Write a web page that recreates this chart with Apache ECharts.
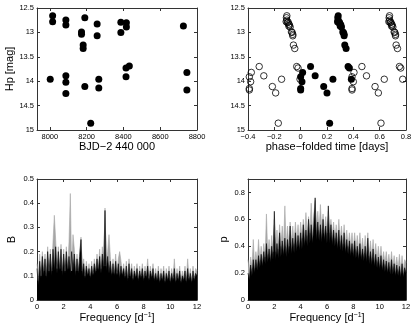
<!DOCTYPE html>
<html>
<head>
<meta charset="utf-8">
<script src="https://cdn.jsdelivr.net/npm/echarts@6/dist/echarts.min.js"></script>
<style>
html,body{margin:0;padding:0;background:#fff}
#main{width:415px;height:331px}
</style>
</head>
<body>
<div id="main"></div>
<script>
// light curve (top left)
const tlDay = [8015, 8015, 8087, 8087, 8190, 8172, 8172, 8257, 8257, 8181, 8181, 8386, 8416, 8416, 8386, 8726,
  8002, 8087, 8087, 8087, 8190, 8266, 8266, 8414, 8432, 8414, 8745, 8745, 8222];
const tlMag = [12.66, 12.78, 12.745, 12.85, 12.70, 12.99, 13.04, 12.83, 13.07, 13.26, 13.33, 12.79, 12.80, 12.89, 13.0, 12.87,
  13.96, 13.89, 14.02, 14.25, 14.11, 13.96, 14.14, 13.73, 13.69, 13.91, 13.82, 14.18, 14.86];

// phase-folded (top right), filled = one cycle, open = neighbouring cycles
const trFillPhase = [0.285, 0.282, 0.285, 0.28, 0.29, 0.295, 0.30, 0.305, 0.30, 0.31, 0.32, 0.325, 0.33, 0.33, 0.335, 0.345,
  0.015, 0.0, 0.01, 0.0, 0.0, 0.075, 0.11, 0.175, 0.20, 0.245, 0.22, 0.36, 0.37, 0.385];
const trFillMag = [12.66, 12.70, 12.75, 12.78, 12.80, 12.79, 12.83, 12.85, 12.87, 12.89, 12.99, 13.0, 13.04, 13.07, 13.26, 13.33,
  13.82, 13.91, 14.01, 14.15, 14.18, 13.70, 13.89, 14.11, 14.24, 13.96, 14.86, 13.70, 13.73, 13.96];
const trOpenPhase = [-0.105, -0.108, -0.105, -0.11, -0.10, -0.095, -0.09, -0.085, -0.09, -0.08, -0.07, -0.065, -0.06, -0.06, -0.055, -0.045,
  -0.375, -0.39, -0.38, -0.39, -0.39, -0.315, -0.28, -0.215, -0.19, -0.145, -0.17, -0.03, -0.02, -0.005,
  0.675, 0.672, 0.675, 0.67, 0.68, 0.685, 0.69, 0.695, 0.69, 0.70, 0.71, 0.715, 0.72, 0.72, 0.725, 0.735,
  0.405, 0.39, 0.40, 0.39, 0.39, 0.465, 0.50, 0.565, 0.59, 0.635, 0.61, 0.75, 0.76, 0.775];
const trOpenMag = [12.66, 12.70, 12.75, 12.78, 12.80, 12.79, 12.83, 12.85, 12.87, 12.89, 12.99, 13.0, 13.04, 13.07, 13.26, 13.33,
  13.82, 13.91, 14.01, 14.15, 14.18, 13.70, 13.89, 14.11, 14.24, 13.96, 14.86, 13.70, 13.73, 13.96,
  12.66, 12.70, 12.75, 12.78, 12.80, 12.79, 12.83, 12.85, 12.87, 12.89, 12.99, 13.0, 13.04, 13.07, 13.26, 13.33,
  13.82, 13.91, 14.01, 14.15, 14.18, 13.70, 13.89, 14.11, 14.24, 13.96, 14.86, 13.70, 13.73, 13.96];

// periodograms, sampled every 0.1 d^-1 from 0 to 12
const freqStep = 0.1;
const bBlack = [0.13,0.06,0.16,0.09,0.18,0.1,0.17,0.09,0.2,0.11, 0.19,0.1,0.21,0.12,0.22,0.11,0.2,0.12,0.21,0.1,
  0.19,0.11,0.2,0.12,0.18,0.11,0.2,0.12,0.19,0.1, 0.17,0.11,0.18,0.25,0.1,0.15,0.09,0.14,0.1,0.13,
  0.09,0.14,0.1,0.15,0.11,0.17,0.12,0.18,0.11,0.19, 0.13,0.37,0.12,0.18,0.11,0.16,0.1,0.15,0.1,0.16,
  0.1,0.15,0.09,0.14,0.1,0.13,0.09,0.14,0.08,0.15, 0.09,0.13,0.08,0.12,0.09,0.13,0.08,0.12,0.09,0.13,
  0.08,0.12,0.09,0.14,0.08,0.12,0.09,0.13,0.08,0.11, 0.08,0.12,0.07,0.11,0.08,0.12,0.07,0.11,0.08,0.12,
  0.07,0.11,0.08,0.13,0.07,0.11,0.08,0.12,0.07,0.1, 0.08,0.12,0.07,0.13,0.08,0.11,0.07,0.12,0.08,0.11, 0.1];
const bGrey = [0.15,0.08,0.19,0.1,0.2,0.12,0.19,0.1,0.22,0.12, 0.21,0.12,0.24,0.35,0.25,0.13,0.22,0.13,0.23,0.12,
  0.21,0.12,0.22,0.13,0.24,0.44,0.12,0.27,0.21,0.12, 0.19,0.12,0.2,0.26,0.12,0.17,0.1,0.16,0.11,0.15,
  0.1,0.16,0.11,0.17,0.12,0.19,0.13,0.21,0.13,0.22, 0.14,0.38,0.14,0.2,0.27,0.18,0.11,0.17,0.11,0.19,
  0.11,0.17,0.2,0.16,0.11,0.15,0.1,0.16,0.09,0.17, 0.1,0.15,0.09,0.14,0.1,0.15,0.09,0.14,0.1,0.15,
  0.09,0.14,0.1,0.17,0.09,0.14,0.1,0.15,0.09,0.13, 0.09,0.14,0.08,0.13,0.09,0.14,0.08,0.13,0.09,0.14,
  0.08,0.13,0.09,0.17,0.08,0.13,0.09,0.14,0.08,0.12, 0.09,0.14,0.08,0.17,0.09,0.13,0.08,0.14,0.09,0.13, 0.12];
const pBlack = [0.2,0.15,0.26,0.18,0.3,0.2,0.3,0.22,0.33,0.24, 0.34,0.25,0.36,0.27,0.42,0.28,0.38,0.28,0.4,0.3,
  0.66,0.3,0.42,0.31,0.5,0.32,0.44,0.33,0.46,0.32, 0.45,0.34,0.55,0.34,0.46,0.35,0.5,0.36,0.48,0.37,
  0.5,0.38,0.56,0.4,0.52,0.4,0.6,0.42,0.56,0.42, 0.55,0.76,0.44,0.58,0.44,0.56,0.43,0.6,0.44,0.55,
  0.42,0.7,0.42,0.56,0.41,0.52,0.4,0.5,0.38,0.52, 0.37,0.48,0.36,0.5,0.35,0.45,0.34,0.44,0.33,0.42,
  0.32,0.44,0.31,0.4,0.3,0.42,0.3,0.38,0.29,0.4, 0.28,0.46,0.27,0.36,0.26,0.38,0.25,0.34,0.24,0.32,
  0.23,0.33,0.22,0.3,0.21,0.29,0.2,0.28,0.19,0.3, 0.19,0.27,0.18,0.26,0.18,0.25,0.17,0.27,0.17,0.24, 0.2];
const pGrey = [0.3,0.22,0.32,0.24,0.45,0.26,0.36,0.28,0.45,0.3, 0.4,0.3,0.42,0.32,0.64,0.34,0.45,0.34,0.48,0.36,
  0.6,0.36,0.52,0.38,0.56,0.4,0.55,0.4,0.7,0.4, 0.55,0.4,0.58,0.42,0.55,0.42,0.58,0.44,0.56,0.44,
  0.58,0.46,0.6,0.48,0.65,0.48,0.62,0.5,0.72,0.5, 0.64,0.74,0.52,0.66,0.52,0.71,0.52,0.64,0.5,0.62,
  0.5,0.66,0.5,0.6,0.48,0.58,0.46,0.56,0.45,0.6, 0.44,0.55,0.42,0.56,0.42,0.52,0.4,0.5,0.4,0.5,
  0.38,0.5,0.38,0.48,0.36,0.5,0.36,0.46,0.35,0.48, 0.34,0.5,0.33,0.44,0.32,0.45,0.31,0.42,0.3,0.4,
  0.29,0.4,0.28,0.36,0.27,0.36,0.26,0.34,0.25,0.36, 0.25,0.33,0.24,0.32,0.23,0.34,0.22,0.33,0.22,0.3, 0.28];

// tick labels
const tlTicksX = [8000, 8200, 8400, 8600, 8800];
const trTicksX = [-0.4, -0.2, 0, 0.2, 0.4, 0.6, 0.8];
const magTicks = [12.5, 13, 13.5, 14, 14.5, 15];
const freqTicks = [0, 2, 4, 6, 8, 10, 12];
const bTicks = [0, 0.1, 0.2, 0.3, 0.4, 0.5];
const pTicks = [0, 0.2, 0.4, 0.6, 0.8];

const font = '"Liberation Sans", Arial, Helvetica, sans-serif';
const frameColor = '#333';

const zip = (a, b) => a.map((v, i) => [v, b[i]]);
const spectrum = vals => vals.map((v, i) => [i * freqStep, v]);
const minus = v => String(v).replace('-', '\u2212');

function axisPair(kind, grid, min, max, ticks, extra) {
  const base = {
    type: 'value', gridIndex: grid, min: min, max: max,
    axisLine: {show: true, onZero: false, lineStyle: {color: frameColor, width: 1}},
    axisTick: {show: true, inside: true, length: 3, customValues: ticks, lineStyle: {color: frameColor}},
    splitLine: {show: false}
  };
  const main = Object.assign({}, base, {
    position: kind === 'x' ? 'bottom' : 'left',
    axisLabel: {customValues: ticks, fontSize: 7.5, color: '#000', fontFamily: font, margin: 3, formatter: minus}
  }, extra || {});
  const mirror = Object.assign({}, base, {
    position: kind === 'x' ? 'top' : 'right',
    axisLabel: {show: false},
    inverse: (extra && extra.inverse) || false
  });
  return [main, mirror];
}

const nameStyle = {fontSize: 11, color: '#000', fontFamily: font};
const freqName = {
  name: '{a|Frequency [d}{s|\u22121}{a|]}', nameLocation: 'middle', nameGap: 8,
  nameTextStyle: {fontFamily: font, color: '#000', rich: {
    a: {fontSize: 11, fontFamily: font, color: '#000', lineHeight: 14, verticalAlign: 'bottom'},
    s: {fontSize: 7, fontFamily: font, color: '#000', lineHeight: 14, verticalAlign: 'bottom', padding: [0, 0, 5, 0]}
  }}
};

const grids = [
  {left: 37, top: 8, width: 160, height: 122},
  {left: 248, top: 8, width: 158, height: 122},
  {left: 37, top: 179, width: 160, height: 121},
  {left: 248, top: 179, width: 158, height: 121}
];

const xAxes = [].concat(
  axisPair('x', 0, 7930, 8800, tlTicksX, {name: 'BJD\u22122 440 000', nameLocation: 'middle', nameGap: 11, nameTextStyle: nameStyle}),
  axisPair('x', 1, -0.4, 0.8, trTicksX, {name: 'phase\u2212folded time [days]', nameLocation: 'middle', nameGap: 11, nameTextStyle: nameStyle}),
  axisPair('x', 2, 0, 12, freqTicks, freqName),
  axisPair('x', 3, 0, 12, freqTicks, freqName)
);
const yAxes = [].concat(
  axisPair('y', 0, 12.5, 15, magTicks, {inverse: true, name: 'Hp [mag]', nameLocation: 'middle', nameGap: 17, nameTextStyle: nameStyle}),
  axisPair('y', 1, 12.5, 15, magTicks, {inverse: true}),
  axisPair('y', 2, 0, 0.5, bTicks, {name: 'B', nameLocation: 'middle', nameGap: 20, nameTextStyle: nameStyle}),
  axisPair('y', 3, 0, 0.9, pTicks, {name: 'p', nameLocation: 'middle', nameGap: 19, nameTextStyle: nameStyle})
);

function areaSeries(axis, vals, color) {
  return {
    type: 'line', xAxisIndex: axis, yAxisIndex: axis, data: spectrum(vals),
    showSymbol: false, symbol: 'none', sampling: null, silent: true,
    lineStyle: {color: color, width: 0.6}, areaStyle: {color: color, opacity: 1}
  };
}

const chart = echarts.init(document.getElementById('main'), null, {renderer: 'canvas'});
chart.setOption({
  animation: false,
  backgroundColor: '#fff',
  grid: grids,
  xAxis: xAxes,
  yAxis: yAxes,
  series: [
    {type: 'scatter', xAxisIndex: 0, yAxisIndex: 0, data: zip(tlDay, tlMag), symbolSize: 7,
      itemStyle: {color: '#000', opacity: 1}},
    {type: 'scatter', xAxisIndex: 2, yAxisIndex: 2, data: zip(trOpenPhase, trOpenMag), symbolSize: 6.5,
      itemStyle: {color: 'rgba(255,255,255,0)', borderColor: '#000', borderWidth: 0.8, opacity: 1}},
    {type: 'scatter', xAxisIndex: 2, yAxisIndex: 2, data: zip(trFillPhase, trFillMag), symbolSize: 7,
      itemStyle: {color: '#000', opacity: 1}},
    areaSeries(4, bGrey, '#a6a6a6'),
    areaSeries(4, bBlack, '#000'),
    areaSeries(6, pGrey, '#a6a6a6'),
    areaSeries(6, pBlack, '#000')
  ]
});
</script>
</body>
</html>
